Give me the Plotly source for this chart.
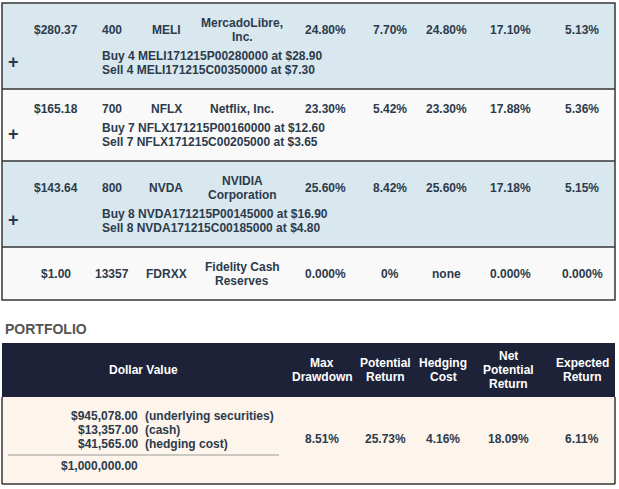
import plotly.graph_objects as go

# positions table
prices = ["$280.37", "$165.18", "$143.64", "$1.00"]
shares = ["400", "700", "800", "13357"]
tickers = ["MELI", "NFLX", "NVDA", "FDRXX"]
names = [
    ["MercadoLibre,", "Inc."],
    ["Netflix, Inc."],
    ["NVIDIA", "Corporation"],
    ["Fidelity Cash", "Reserves"],
]
cap_pct = ["24.80%", "23.30%", "25.60%", "0.000%"]
hedge_cost = ["7.70%", "5.42%", "8.42%", "0%"]
potential_return = ["24.80%", "23.30%", "25.60%", "none"]
net_return = ["17.10%", "17.88%", "17.18%", "0.000%"]
expected_return = ["5.13%", "5.36%", "5.15%", "0.000%"]
hedges = [
    ["Buy 4 MELI171215P00280000 at $28.90", "Sell 4 MELI171215C00350000 at $7.30"],
    ["Buy 7 NFLX171215P00160000 at $12.60", "Sell 7 NFLX171215C00205000 at $3.65"],
    ["Buy 8 NVDA171215P00145000 at $16.90", "Sell 8 NVDA171215C00185000 at $4.80"],
    [],
]

# portfolio summary
portfolio_title = "PORTFOLIO"
portfolio_headers = [
    ["Max", "Drawdown"],
    ["Potential", "Return"],
    ["Hedging", "Cost"],
    ["Net", "Potential", "Return"],
    ["Expected", "Return"],
]
dollar_amounts = ["$945,078.00", "$13,357.00", "$41,565.00"]
dollar_labels = ["(underlying securities)", "(cash)", "(hedging cost)"]
dollar_total = "$1,000,000.00"
portfolio_values = ["8.51%", "25.73%", "4.16%", "18.09%", "6.11%"]

W, H = 619, 489
FONT = "Liberation Sans, Arial, Helvetica, sans-serif"
TEXT = "#2c3b4c"
ROW_FILLS = ["#d9e7ef", "#f9f9f9"]
BORDER = "#363636"
NAVY = "#1d2238"
CREAM = "#fdf4eb"

LEFT, RIGHT = 2, 615
COL_X = [56, 112, 166, 242, 325, 390, 446, 510, 582]
HEDGE_X = 100
PLUS_X = 13
PAD, LINE, GAP = 12.5, 14, 5

P_COL_X = [322, 385, 443, 508, 582]
DOLLAR_HDR_X = 143
AMOUNT_RIGHT = 140

annotations = []
shapes = []


def text(x, y, s, anchor="center", color=TEXT, size=12):
    annotations.append(
        dict(
            x=x, y=y, xref="x", yref="y", text=s, showarrow=False,
            xanchor=anchor, yanchor="middle",
            font=dict(family=FONT, size=size, color=color, weight="bold"),
        )
    )


def rect(x0, y0, x1, y1, fill, line_color=None, width=0):
    shapes.append(
        dict(
            type="rect", xref="x", yref="y", x0=x0, y0=y0, x1=x1, y1=y1,
            fillcolor=fill, line=dict(color=line_color or fill, width=width),
            layer="below",
        )
    )


def hline(x0, x1, y, color, width):
    shapes.append(
        dict(type="line", xref="x", yref="y", x0=x0, x1=x1, y0=y, y1=y,
             line=dict(color=color, width=width))
    )


# top table rows
top = 3
row_tops = []
for i in range(len(tickers)):
    n = len(names[i])
    height = PAD + LINE * n + (GAP + LINE * len(hedges[i]) if hedges[i] else 0) + PAD
    rect(LEFT, top, RIGHT, top + height, ROW_FILLS[i % 2])
    row_tops.append(top)

    mid = top + PAD + LINE * n / 2
    cells = [prices[i], shares[i], tickers[i], None, cap_pct[i], hedge_cost[i],
             potential_return[i], net_return[i], expected_return[i]]
    for x, s in zip(COL_X, cells):
        if s is not None:
            text(x, mid, s)
    for k, line in enumerate(names[i]):
        text(COL_X[3], top + PAD + LINE * (k + 0.5), line)

    if hedges[i]:
        h0 = top + PAD + LINE * n + GAP
        for k, line in enumerate(hedges[i]):
            text(HEDGE_X, h0 + LINE * (k + 0.5), line, anchor="left")
        text(PLUS_X, h0 + LINE * len(hedges[i]) / 2 - 1, "<b>+</b>", size=18,
             color="#283848")
    top += height
table_bottom = top

for y in row_tops[1:]:
    hline(LEFT, RIGHT, y, BORDER, 1.5)
shapes.append(
    dict(type="rect", xref="x", yref="y", x0=LEFT, y0=row_tops[0], x1=RIGHT,
         y1=table_bottom, line=dict(color=BORDER, width=1.5))
)

# portfolio block
text(LEFT + 1, 329, portfolio_title, anchor="left", color="#545454", size=14)

hdr_top, hdr_bottom, body_bottom = 343, 397, 484
rect(LEFT, hdr_top, RIGHT, hdr_bottom, NAVY)
rect(LEFT, hdr_bottom, RIGHT, body_bottom, CREAM)
for x0, y0, x1, y1 in [(LEFT, hdr_bottom, LEFT, body_bottom),
                       (RIGHT, hdr_bottom, RIGHT, body_bottom),
                       (LEFT, body_bottom, RIGHT, body_bottom)]:
    shapes.append(dict(type="line", xref="x", yref="y", x0=x0, y0=y0, x1=x1,
                       y1=y1, line=dict(color=BORDER, width=1.5)))

hdr_mid = (hdr_top + hdr_bottom) / 2
text(DOLLAR_HDR_X, hdr_mid, "Dollar Value", color="white")
for x, lines in zip(P_COL_X, portfolio_headers):
    for k, line in enumerate(lines):
        text(x, hdr_mid + LINE * (k - (len(lines) - 1) / 2), line, color="white")

for k, (amt, lab) in enumerate(zip(dollar_amounts, dollar_labels)):
    y = 416 + LINE * k
    text(AMOUNT_RIGHT, y, amt, anchor="right")
    text(AMOUNT_RIGHT + 3, y, lab, anchor="left")
hline(8, 279, 455, "#9a9a9a", 1.2)
text(AMOUNT_RIGHT, 466, dollar_total, anchor="right")

for x, v in zip(P_COL_X, portfolio_values):
    text(x, 439, v)

fig = go.Figure()
fig.update_layout(
    width=W, height=H,
    margin=dict(l=0, r=0, t=0, b=0),
    paper_bgcolor="white", plot_bgcolor="white",
    xaxis=dict(range=[0, W], visible=False, fixedrange=True),
    yaxis=dict(range=[H, 0], visible=False, fixedrange=True),
    shapes=shapes, annotations=annotations, showlegend=False,
)
fig.write_html(
    "out.html",
    config={"displayModeBar": False, "staticPlot": True},
    post_script="document.body.style.margin='0';",
)
